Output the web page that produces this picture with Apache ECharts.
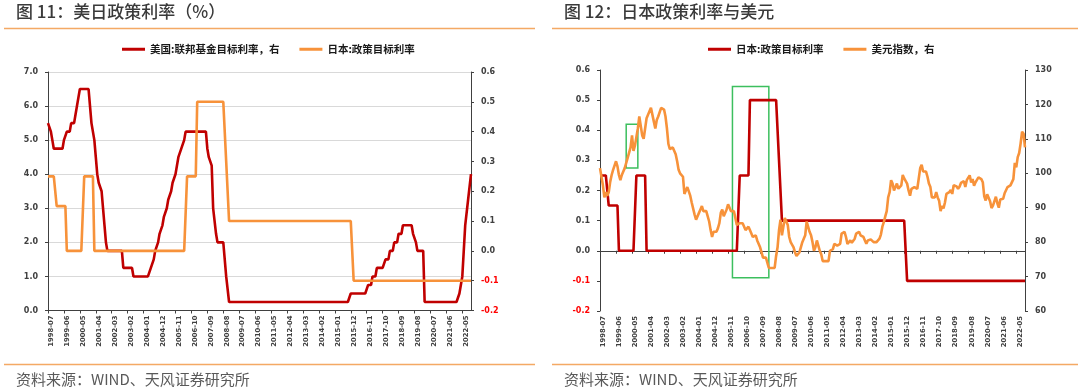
<!DOCTYPE html>
<html>
<head>
<meta charset="utf-8">
<script src="https://cdn.jsdelivr.net/npm/echarts@6/dist/echarts.min.js"></script>
<style>
html,body{margin:0;padding:0;background:#fff;}
#c{width:1080px;height:391px;}
</style>
</head>
<body>
<div id="c"></div>
<script>
// ---- categories: monthly, 1998-07 .. 2022-11 ----
const months = [];
for (let i = 0; i < 293; i++) {
  const t = 1998 * 12 + 6 + i;
  months.push(Math.floor(t / 12) + '-' + String(t % 12 + 1).padStart(2, '0'));
}

// ---- US federal funds target rate (%), left axis of chart 1 ----
const usRate = [
  5.5,5.5,5.25,5.0,4.75,4.75,
  4.75,4.75,4.75,4.75,4.75,5.0,5.0,5.25,5.25,5.25,5.5,5.5,
  5.5,5.75,6.0,6.0,6.5,6.5,6.5,6.5,6.5,6.5,6.5,6.5,
  5.5,5.5,5.0,4.5,4.0,3.75,3.75,3.5,3.0,2.5,2.0,1.75,
  1.75,1.75,1.75,1.75,1.75,1.75,1.75,1.75,1.75,1.75,1.25,1.25,
  1.25,1.25,1.25,1.25,1.25,1.0,1.0,1.0,1.0,1.0,1.0,1.0,
  1.0,1.0,1.0,1.0,1.0,1.25,1.25,1.5,1.75,1.75,2.0,2.25,
  2.25,2.5,2.75,2.75,3.0,3.25,3.25,3.5,3.75,3.75,4.0,4.25,
  4.5,4.5,4.75,4.75,5.0,5.25,5.25,5.25,5.25,5.25,5.25,5.25,
  5.25,5.25,5.25,5.25,5.25,5.25,5.25,5.25,4.75,4.5,4.5,4.25,
  3.0,3.0,2.25,2.0,2.0,2.0,2.0,2.0,2.0,1.0,1.0,0.25,
  0.25,0.25,0.25,0.25,0.25,0.25,0.25,0.25,0.25,0.25,0.25,0.25,
  0.25,0.25,0.25,0.25,0.25,0.25,0.25,0.25,0.25,0.25,0.25,0.25,
  0.25,0.25,0.25,0.25,0.25,0.25,0.25,0.25,0.25,0.25,0.25,0.25,
  0.25,0.25,0.25,0.25,0.25,0.25,0.25,0.25,0.25,0.25,0.25,0.25,
  0.25,0.25,0.25,0.25,0.25,0.25,0.25,0.25,0.25,0.25,0.25,0.25,
  0.25,0.25,0.25,0.25,0.25,0.25,0.25,0.25,0.25,0.25,0.25,0.25,
  0.25,0.25,0.25,0.25,0.25,0.25,0.25,0.25,0.25,0.25,0.25,0.5,
  0.5,0.5,0.5,0.5,0.5,0.5,0.5,0.5,0.5,0.5,0.5,0.75,
  0.75,0.75,1.0,1.0,1.0,1.25,1.25,1.25,1.25,1.25,1.25,1.5,
  1.5,1.5,1.75,1.75,1.75,2.0,2.0,2.0,2.25,2.25,2.25,2.5,
  2.5,2.5,2.5,2.5,2.5,2.5,2.25,2.25,2.0,1.75,1.75,1.75,
  1.75,1.75,0.25,0.25,0.25,0.25,0.25,0.25,0.25,0.25,0.25,0.25,
  0.25,0.25,0.25,0.25,0.25,0.25,0.25,0.25,0.25,0.25,0.25,0.25,
  0.25,0.25,0.5,0.5,1.0,1.75,2.5,2.5,3.25,3.25,4.0
];

// ---- Japan policy target rate (%) ----
const jpRate = [
  0.25,0.25,0.25,0.25,0.25,0.25,
  0.15,0.15,0.15,0.15,0.15,0.15,0.15,0,0,0,0,0,
  0,0,0,0,0,0,0,0.25,0.25,0.25,0.25,0.25,
  0.25,0.25,0,0,0,0,0,0,0,0,0,0,
  0,0,0,0,0,0,0,0,0,0,0,0,
  0,0,0,0,0,0,0,0,0,0,0,0,
  0,0,0,0,0,0,0,0,0,0,0,0,
  0,0,0,0,0,0,0,0,0,0,0,0,
  0,0,0,0,0,0,0.25,0.25,0.25,0.25,0.25,0.25,
  0.25,0.5,0.5,0.5,0.5,0.5,0.5,0.5,0.5,0.5,0.5,0.5,
  0.5,0.5,0.5,0.5,0.5,0.5,0.5,0.5,0.5,0.3,0.3,0.1,
  0.1,0.1,0.1,0.1,0.1,0.1,0.1,0.1,0.1,0.1,0.1,0.1,
  0.1,0.1,0.1,0.1,0.1,0.1,0.1,0.1,0.1,0.1,0.1,0.1,
  0.1,0.1,0.1,0.1,0.1,0.1,0.1,0.1,0.1,0.1,0.1,0.1,
  0.1,0.1,0.1,0.1,0.1,0.1,0.1,0.1,0.1,0.1,0.1,0.1,
  0.1,0.1,0.1,0.1,0.1,0.1,0.1,0.1,0.1,0.1,0.1,0.1,
  0.1,0.1,0.1,0.1,0.1,0.1,0.1,0.1,0.1,0.1,0.1,0.1,
  0.1,0.1,0.1,0.1,0.1,0.1,0.1,0.1,0.1,0.1,0.1,0.1,
  0.1,-0.1,-0.1,-0.1,-0.1,-0.1,-0.1,-0.1,-0.1,-0.1,-0.1,-0.1,
  -0.1,-0.1,-0.1,-0.1,-0.1,-0.1,-0.1,-0.1,-0.1,-0.1,-0.1,-0.1,
  -0.1,-0.1,-0.1,-0.1,-0.1,-0.1,-0.1,-0.1,-0.1,-0.1,-0.1,-0.1,
  -0.1,-0.1,-0.1,-0.1,-0.1,-0.1,-0.1,-0.1,-0.1,-0.1,-0.1,-0.1,
  -0.1,-0.1,-0.1,-0.1,-0.1,-0.1,-0.1,-0.1,-0.1,-0.1,-0.1,-0.1,
  -0.1,-0.1,-0.1,-0.1,-0.1,-0.1,-0.1,-0.1,-0.1,-0.1,-0.1,-0.1,
  -0.1,-0.1,-0.1,-0.1,-0.1,-0.1,-0.1,-0.1,-0.1,-0.1,-0.1
];

// ---- US dollar index, right axis of chart 2 ----
const dxy = [
  101.5,101.0,96.5,93.0,94.5,93.5,
  94.5,97.5,99.5,101.0,101.5,103.5,102.0,99.5,98.0,99.5,100.5,101.5,
  102.0,104.5,106.0,107.5,111.0,106.5,108.0,110.5,113.0,116.5,117.0,111.0,
  110.0,113.0,116.0,117.0,118.0,119.0,118.5,115.0,113.0,115.5,116.5,117.0,
  119.0,119.0,118.5,116.5,113.0,108.5,107.0,107.5,107.5,107.5,105.5,103.5,
  101.0,100.0,99.5,99.0,94.0,94.5,96.0,96.5,93.5,91.5,91.0,88.0,
  86.5,86.0,88.5,89.5,90.5,89.0,88.5,89.0,88.5,86.0,83.5,81.5,
  83.0,83.5,83.0,84.0,85.5,88.5,89.5,87.5,88.0,89.5,91.0,90.0,
  89.0,89.5,89.0,87.0,85.0,85.5,85.5,85.0,85.5,85.5,83.5,83.5,
  84.5,83.5,83.0,81.5,81.5,82.0,80.5,81.0,78.5,77.0,75.5,76.0,
  75.5,75.0,72.5,72.5,72.5,73.0,72.5,76.0,78.5,83.5,86.5,82.0,
  84.5,87.0,86.0,85.0,81.5,80.0,79.5,78.5,77.0,76.0,75.5,77.0,
  78.5,80.0,81.0,82.0,86.0,86.5,83.0,82.0,80.0,77.5,78.5,80.5,
  79.0,77.5,76.5,74.5,75.0,74.5,74.5,74.5,77.5,77.0,78.0,79.5,
  80.0,79.0,79.5,79.5,82.5,82.5,83.0,81.5,79.5,79.8,80.5,79.8,
  79.5,81.0,82.5,82.5,83.0,82.0,82.5,81.5,80.5,79.5,80.5,80.5,
  80.8,80.3,80.0,79.8,80.0,80.5,81.0,82.2,84.5,85.8,87.5,89.0,
  93.0,94.5,98.0,97.0,95.0,95.5,97.0,95.5,96.0,96.5,99.5,98.5,
  99.0,97.0,95.0,93.5,95.5,95.5,96.0,95.5,95.5,98.5,101.5,102.5,
  100.5,101.0,100.5,99.0,97.0,96.0,93.0,93.0,93.0,94.5,93.0,92.0,
  89.0,90.5,89.8,91.5,94.0,94.5,94.5,95.2,94.0,96.5,96.5,96.2,
  95.5,96.1,97.2,97.5,97.7,96.0,98.0,98.5,99.4,97.3,98.3,96.4,
  97.4,98.1,98.8,99.0,98.3,97.4,93.3,92.1,93.9,94.0,91.9,89.9,
  90.6,90.9,93.2,91.3,90.0,92.4,92.1,92.6,94.2,94.1,96.0,95.7,
  96.5,96.7,98.3,103.0,101.7,104.7,105.9,108.7,112.1,111.5,107.5
];

// ---- highlight boxes on chart 2 (category, Japan-rate axis value) ----
const boxA = [['2000-01', 0.42], ['2000-09', 0.275]];
const boxB = [['2006-02', 0.545], ['2008-03', -0.09]];

// ---- tick labels / texts ----
const legendText = {
  us: '美国:联邦基金目标利率，右',
  jpL: '日本:政策目标利率',
  jpR: '日本:政策目标利率',
  dxy: '美元指数，右'
};

const RED = '#C00000', ORANGE = '#F7923A', AX = '#404040';
const numFont = 'DejaVu Sans', cjk = 'Noto Sans CJK SC';

function yLabel(dec, redNeg) {
  return {
    margin: 10, fontSize: 8, fontWeight: 'bold', fontFamily: numFont,
    color: redNeg ? (v => v < -1e-9 ? '#FF0000' : AX) : AX,
    formatter: v => Number(v).toFixed(dec)
  };
}
const xLabel = {
  interval: 10, rotate: 90, fontSize: 6.8, fontWeight: 'bold', fontFamily: numFont,
  color: AX, margin: 5, verticalAlign: 'top'
};
const axLine = { show: true, lineStyle: { color: AX, width: 1 } };
const tick = { show: true, length: 3, lineStyle: { color: AX } };
const titleStyle = { fontSize: 17, fontWeight: 500, color: '#3a3a3a', fontFamily: cjk };
const srcStyle = { fontSize: 15, fontWeight: 'normal', color: '#595959', fontFamily: cjk };
const legendStyle = { fontSize: 10.5, fontWeight: 'bold', color: '#1a1a1a', fontFamily: cjk };

const chart = echarts.init(document.getElementById('c'), null, { renderer: 'canvas' });
chart.setOption({
  animation: false,
  backgroundColor: '#fff',
  title: [
    { text: '图 11：美日政策利率（%）', left: 16, top: 3, padding: 0, textStyle: titleStyle },
    { text: '图 12：日本政策利率与美元', left: 564, top: 3, padding: 0, textStyle: titleStyle },
    { text: '资料来源：WIND、天风证券研究所', left: 16, top: 372, padding: 0, textStyle: srcStyle },
    { text: '资料来源：WIND、天风证券研究所', left: 564, top: 372, padding: 0, textStyle: srcStyle }
  ],
  graphic: [
    { type: 'line', shape: { x1: 4, y1: 28.5, x2: 535, y2: 28.5 }, style: { stroke: '#F4A964', lineWidth: 1.5 } },
    { type: 'line', shape: { x1: 552, y1: 28.5, x2: 1078, y2: 28.5 }, style: { stroke: '#F4A964', lineWidth: 1.5 } },
    { type: 'line', shape: { x1: 4, y1: 364.5, x2: 535, y2: 364.5 }, style: { stroke: '#F4A964', lineWidth: 1.5 } },
    { type: 'line', shape: { x1: 552, y1: 364.5, x2: 1078, y2: 364.5 }, style: { stroke: '#F4A964', lineWidth: 1.5 } }
  ],
  legend: [
    { left: 122, top: 44, padding: 0, itemWidth: 23, itemHeight: 3, itemGap: 20, icon: 'rect',
      formatter: n => legendText[n], textStyle: legendStyle, data: ['us', 'jpL'] },
    { left: 708, top: 44, padding: 0, itemWidth: 23, itemHeight: 3, itemGap: 20, icon: 'rect',
      formatter: n => legendText[n], textStyle: legendStyle, data: ['jpR', 'dxy'] }
  ],
  grid: [
    { left: 48, top: 72, width: 423, height: 238.5 },
    { left: 600, top: 70, width: 425, height: 241 }
  ],
  xAxis: [
    { gridIndex: 0, type: 'category', data: months, boundaryGap: false,
      axisLine: Object.assign({ onZero: false }, axLine),
      axisTick: Object.assign({ interval: 10 }, tick), axisLabel: xLabel, splitLine: { show: false } },
    { gridIndex: 1, type: 'category', data: months, boundaryGap: false,
      axisLine: Object.assign({ onZero: true, onZeroAxisIndex: 2 }, axLine),
      axisTick: Object.assign({ interval: 10 }, tick), axisLabel: { show: false }, splitLine: { show: false } },
    { gridIndex: 1, type: 'category', data: months, boundaryGap: false, position: 'bottom',
      axisLine: { show: false, onZero: false }, axisTick: { show: false },
      axisLabel: xLabel, splitLine: { show: false } }
  ],
  yAxis: [
    { gridIndex: 0, type: 'value', position: 'left', min: 0, max: 7, interval: 1,
      axisLine: axLine, axisTick: tick, axisLabel: yLabel(1, false),
      splitLine: { show: true, lineStyle: { color: '#D9D9D9', width: 1 } } },
    { gridIndex: 0, type: 'value', position: 'right', min: -0.2, max: 0.6, interval: 0.1,
      axisLine: axLine, axisTick: tick, axisLabel: yLabel(1, true), splitLine: { show: false } },
    { gridIndex: 1, type: 'value', position: 'left', min: -0.2, max: 0.6, interval: 0.1,
      axisLine: axLine, axisTick: tick, axisLabel: yLabel(1, true), splitLine: { show: false } },
    { gridIndex: 1, type: 'value', position: 'right', min: 60, max: 130, interval: 10,
      axisLine: axLine, axisTick: tick, axisLabel: yLabel(0, false), splitLine: { show: false } }
  ],
  series: [
    { name: 'us', type: 'line', xAxisIndex: 0, yAxisIndex: 0, data: usRate,
      symbol: 'none', color: RED, lineStyle: { width: 2.6, color: RED } },
    { name: 'jpL', type: 'line', xAxisIndex: 0, yAxisIndex: 1, data: jpRate,
      symbol: 'none', color: ORANGE, lineStyle: { width: 2.6, color: ORANGE } },
    { name: 'jpR', type: 'line', xAxisIndex: 1, yAxisIndex: 2, data: jpRate,
      symbol: 'none', color: RED, lineStyle: { width: 2.6, color: RED },
      markArea: {
        silent: true,
        itemStyle: { color: 'rgba(0,0,0,0)', borderColor: '#3CBF5E', borderWidth: 1.5 },
        data: [boxA, boxB].map(b => [
          { xAxis: b[0][0], yAxis: b[0][1] },
          { xAxis: b[1][0], yAxis: b[1][1] }
        ])
      } },
    { name: 'dxy', type: 'line', xAxisIndex: 1, yAxisIndex: 3, data: dxy,
      symbol: 'none', color: ORANGE, lineStyle: { width: 2.6, color: ORANGE } }
  ]
});
</script>
</body>
</html>
